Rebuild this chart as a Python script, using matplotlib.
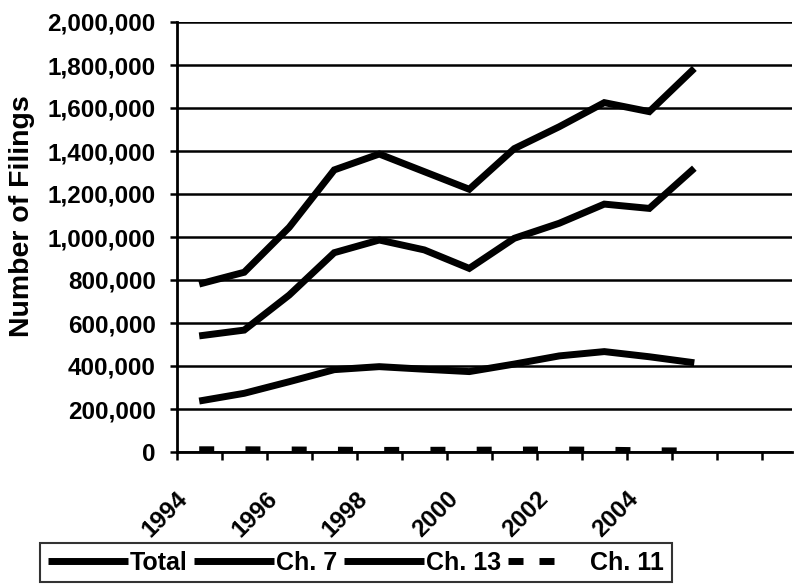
import numpy as np
import matplotlib
matplotlib.use("Agg")
import matplotlib.pyplot as plt
from matplotlib.ticker import FuncFormatter
from matplotlib.lines import Line2D
from matplotlib.legend_handler import HandlerBase
from matplotlib.transforms import ScaledTranslation

years = list(range(1994, 2006))
total = [781000, 836000, 1045000, 1312000, 1386000, 1304000, 1222000, 1411000, 1513000, 1625000, 1583000, 1784000]
ch7 = [540000, 567000, 730000, 927000, 986000, 940000, 854000, 994000, 1064000, 1153000, 1133000, 1320000]
ch13 = [237000, 273000, 327000, 383000, 397000, 385000, 374000, 409000, 447000, 467000, 443000, 415000]
ch11 = [12000, 12000, 11000, 10000, 9000, 9500, 10000, 10500, 11000, 10000, 7000, 6500]
tick_years = [1994, 1996, 1998, 2000, 2002, 2004]
series_names = ["Total", "Ch. 7", "Ch. 13", "Ch. 11"]

plt.rcParams['font.family'] = ['Liberation Sans', 'DejaVu Sans']
plt.rcParams['font.weight'] = 'bold'

W, H = 802, 586
fig = plt.figure(figsize=(W / 100, H / 100), dpi=100)
left, right, top, bottom = 176.7, 792, 22, 452
ax = fig.add_axes([left / W, (H - bottom) / H, (right - left) / W, (bottom - top) / H])

x = np.arange(len(years))
lw = 5
common = dict(color='black', lw=lw, solid_joinstyle='miter', solid_capstyle='butt')
ax.plot(x, total, **common, zorder=3)
ax.plot(x, ch7, **common, zorder=3)
ax.plot(x, ch13, **common, zorder=3)
ch11_line, = ax.plot(x, ch11, color='black', lw=4.5, dashes=(2.4, 5.0), dash_capstyle='butt', zorder=3)

ax.set_xlim(-0.5, 13.17)
ax.set_ylim(0, 2000000)
ax.set_yticks(np.arange(0, 2000001, 200000))
ax.yaxis.set_major_formatter(FuncFormatter(lambda v, p: f"{int(v):,}"))
ax.yaxis.grid(True, color='black', lw=1.8)
ax.set_axisbelow(True)
for s in ['top', 'right']:
    ax.spines[s].set_visible(False)
for s in ['left', 'bottom']:
    ax.spines[s].set_linewidth(2)

ax.tick_params(axis='y', length=5, width=1.8, pad=10, labelsize=17.5)

tick_pos = [years.index(y) for y in tick_years]
ax.set_xticks(tick_pos)
ax.set_xticklabels([str(y) for y in tick_years], rotation=45, ha='right', va='center',
                   rotation_mode='anchor', fontsize=17.5, fontweight='bold')
ax.tick_params(axis='x', which='major', length=0, pad=31)
off = ScaledTranslation(-15 / 100, 0, fig.dpi_scale_trans)
for lab in ax.get_xticklabels():
    lab.set_transform(lab.get_transform() + off)
ax.set_xticks(np.arange(-0.5, 13.5, 1), minor=True)
ax.tick_params(axis='x', which='minor', length=6, width=1.8, direction='out')

fig.text(22 / W, 1 - 216 / H, "Number of Filings", rotation=90, ha='center', va='center',
         fontsize=20.5, fontweight='bold')


class TwoDashHandler(HandlerBase):
    def create_artists(self, legend, orig_handle, xdescent, ydescent, width, height,
                       fontsize, trans):
        y = height / 2 - ydescent
        x0 = -xdescent
        d = 0.19 * width
        arts = []
        for start in (0.0, 0.39 * width):
            arts.append(Line2D([x0 + start, x0 + start + d], [y, y], color='black', lw=5,
                               solid_capstyle='butt', transform=trans))
        return arts


handles = [Line2D([], [], color='black', lw=lw, solid_capstyle='butt'),
           Line2D([], [], color='black', lw=lw, solid_capstyle='butt'),
           Line2D([], [], color='black', lw=lw, solid_capstyle='butt'),
           ch11_line]
leg = fig.legend(handles, series_names, loc='lower left', bbox_to_anchor=(40 / W, 4 / H),
                 ncol=4, frameon=True, fancybox=False, edgecolor='black',
                 handlelength=3.2, handletextpad=0.1, columnspacing=0.25,
                 borderpad=0.3, borderaxespad=0, prop={'size': 18, 'weight': 'bold'},
                 handler_map={ch11_line: TwoDashHandler()})
leg.get_frame().set_linewidth(1.5)

fig.savefig("out.png", dpi=100)
